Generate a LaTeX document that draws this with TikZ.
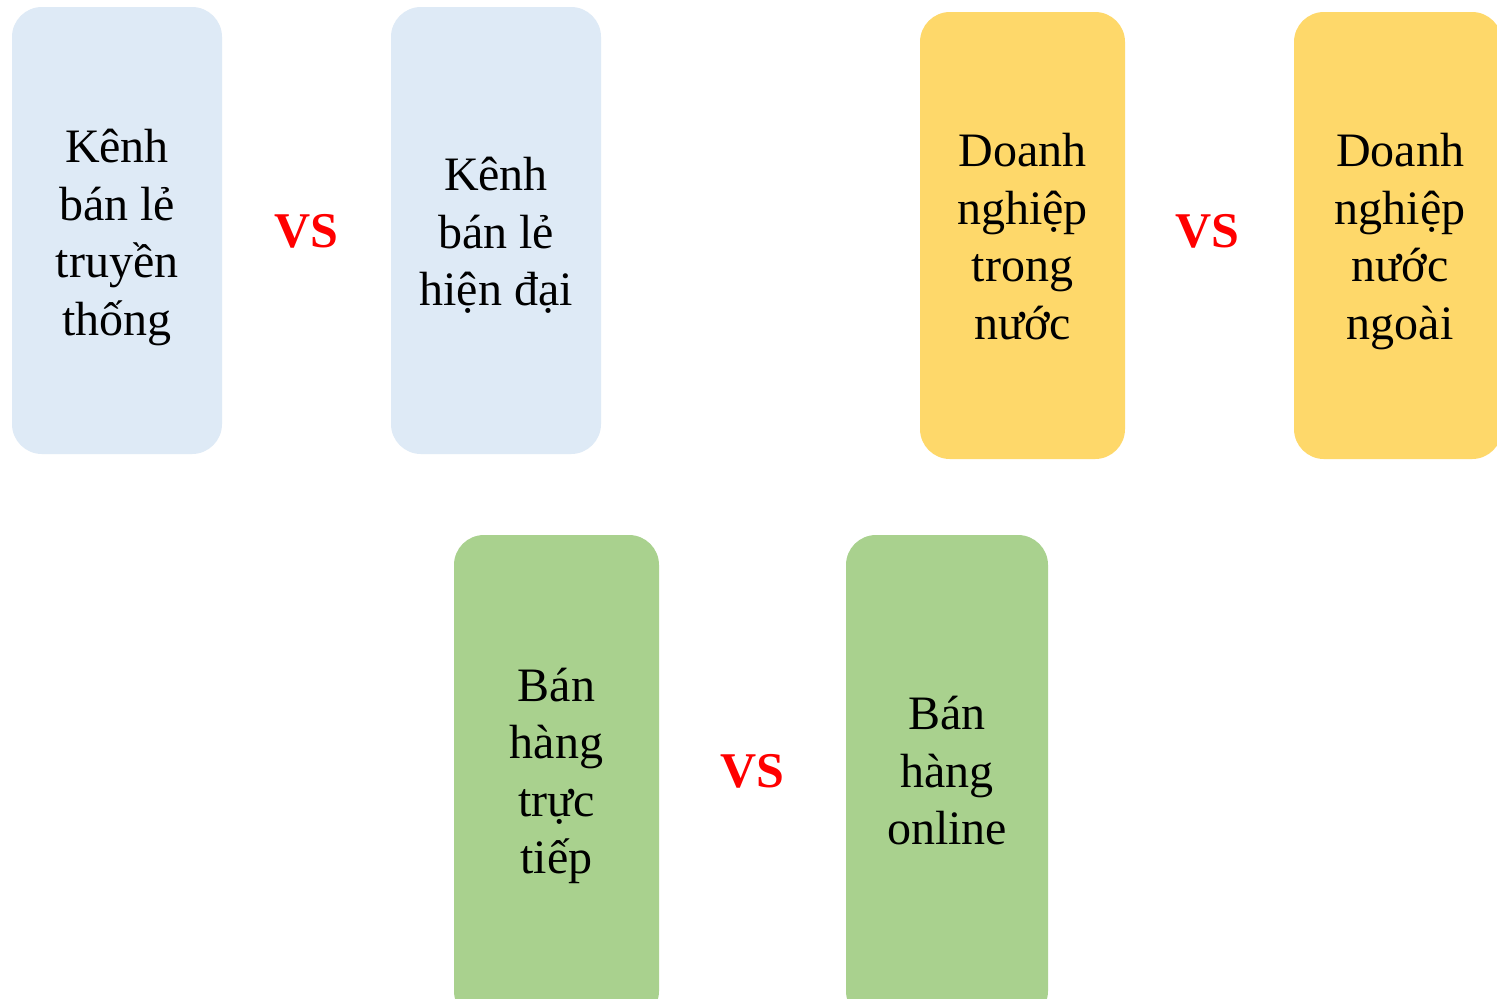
\documentclass[tikz,border=0pt]{standalone}
\usepackage{fontspec}
\setmainfont{Liberation Serif}
\definecolor{boxblue}{HTML}{DEEAF6}
\definecolor{boxyellow}{HTML}{FED86A}
\definecolor{boxgreen}{HTML}{A9D18E}
\definecolor{vsred}{HTML}{FF0000}
\tikzset{
  card/.style={rounded corners=15pt, inner sep=0pt},
  cardtext/.style={inner sep=0pt, align=center,
    font=\fontsize{24}{28.75}\selectfont, text=black},
  vslabel/.style={inner sep=0pt, text=vsred, font=\fontsize{25}{30}\selectfont\bfseries}
}
\begin{document}
\begin{tikzpicture}[x=0.5pt,y=-0.5pt]
\useasboundingbox (0,0) rectangle (1497,998);
\fill[white] (0,0) rectangle (1497,998);
% top left pair
\node[card, fill=boxblue, minimum width=105pt, minimum height=223.5pt] (b1) at (117,230.5) {};
\node[cardtext] (t1) at (117,237.5) {Kênh\\bán lẻ\\truyền\\thống};
\node[card, fill=boxblue, minimum width=105pt, minimum height=223.5pt] (b2) at (496,230.5) {};
\node[cardtext] (t2) at (496,235.5) {Kênh\\bán lẻ\\hiện đại};
\node[vslabel] (vs1) at (306,231) {VS};
% top right pair
\node[card, fill=boxyellow, minimum width=102.5pt, minimum height=223.5pt] (y1) at (1022.5,235.5) {};
\node[cardtext] (t3) at (1022.5,236.5) {Doanh\\nghiệp\\trong\\nước};
\node[card, fill=boxyellow, minimum width=104pt, minimum height=223.5pt] (y2) at (1398,235.5) {};
\node[cardtext] (t4) at (1400,241.5) {Doanh\\nghiệp\\nước\\ngoài};
\node[vslabel] (vs2) at (1207,231) {VS};
% bottom pair
\node[card, fill=boxgreen, minimum width=102.5pt, minimum height=243pt] (g1) at (556.5,778) {};
\node[cardtext] (t5) at (556.5,776) {Bán\\hàng\\trực\\tiếp};
\node[card, fill=boxgreen, minimum width=101pt, minimum height=243pt] (g2) at (947,778) {};
\node[cardtext] (t6) at (947,771) {Bán\\hàng\\online};
\node[vslabel] (vs3) at (752,771) {VS};
\end{tikzpicture}
\end{document}
